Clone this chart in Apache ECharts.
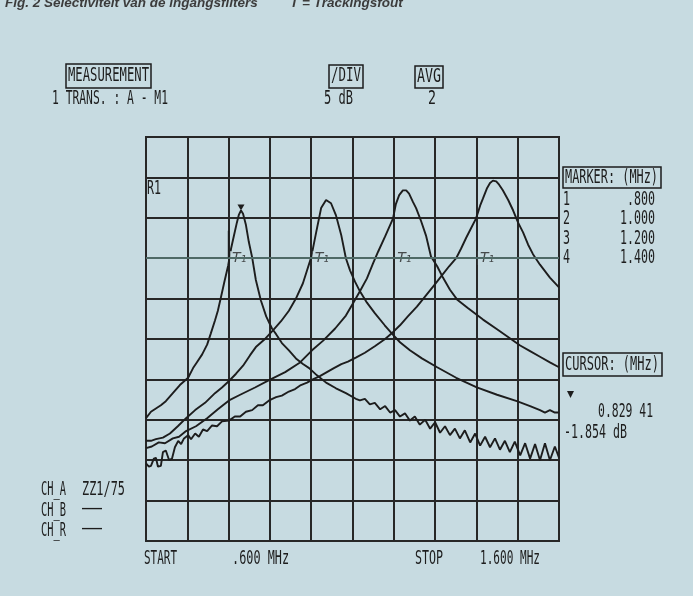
<!DOCTYPE html>
<html>
<head>
<meta charset="utf-8">
<script src="https://cdn.jsdelivr.net/npm/echarts@6/dist/echarts.min.js"></script>
<style>
  html, body { margin: 0; padding: 0; background: #c7dbe1; }
  #chart { width: 693px; height: 596px; }
</style>
</head>
<body>
<div id="chart"></div>
<script>
// frequency in kHz, level in dB (5 dB / div, R1 line = 0 dB)
const curve1 = [
  [600, -29.8], [612, -29.0], [624, -28.6], [636, -28.2], [648, -27.7], [665, -26.7],
  [682, -25.7], [702, -24.8], [714, -23.6], [723, -22.9], [736, -21.9], [748, -20.7],
  [757, -19.3], [767, -17.7], [774, -16.5], [782, -14.7], [789, -13.1], [799, -10.9],
  [806, -8.8], [813, -7.2], [820, -5.6], [825, -4.6], [830, -4.1], [835, -4.5],
  [842, -5.9], [849, -8.0], [857, -9.9], [866, -12.7], [878, -15.2], [891, -17.2],
  [905, -18.7], [915, -19.4], [929, -20.5], [946, -21.4], [963, -22.4], [980, -23.1],
  [995, -23.6], [1014, -24.5], [1036, -25.4], [1060, -26.1], [1084, -26.7], [1108, -27.4],
  [1118, -27.6], [1130, -27.4], [1142, -28.1], [1154, -27.9], [1167, -28.7], [1179, -28.3],
  [1191, -29.1], [1203, -28.8], [1215, -29.6], [1227, -29.2], [1239, -30.1], [1251, -29.6],
  [1263, -30.6], [1276, -30.0], [1288, -31.1], [1300, -30.3], [1312, -31.6], [1324, -30.8],
  [1336, -31.9], [1348, -31.1], [1360, -32.3], [1372, -31.3], [1385, -32.8], [1397, -31.7],
  [1409, -33.2], [1421, -32.1], [1433, -33.4], [1445, -32.3], [1457, -33.7], [1469, -32.6],
  [1481, -34.0], [1493, -32.7], [1506, -34.4], [1518, -32.9], [1530, -34.8], [1542, -33.0],
  [1554, -35.0], [1566, -32.9], [1578, -35.0], [1590, -33.3], [1600, -34.7]
]
const curve2 = [
  [600, -32.6], [612, -32.6], [624, -32.4], [641, -32.2], [658, -31.7], [677, -30.8],
  [697, -29.8], [719, -28.8], [743, -27.9], [767, -26.7], [784, -26.0], [801, -25.2],
  [818, -24.3], [835, -23.3], [852, -22.0], [866, -21.0], [886, -20.1], [908, -18.9],
  [927, -17.8], [946, -16.5], [963, -15.0], [980, -13.1], [990, -11.5], [1000, -9.9],
  [1012, -6.8], [1024, -3.8], [1036, -2.8], [1048, -3.2], [1060, -4.7], [1073, -7.2],
  [1084, -10.0], [1094, -11.5], [1106, -12.9], [1118, -14.1], [1135, -15.5], [1154, -16.8],
  [1178, -18.3], [1195, -19.3], [1215, -20.4], [1239, -21.4], [1268, -22.4], [1305, -23.5],
  [1351, -24.8], [1401, -26.0], [1450, -26.9], [1498, -27.7], [1530, -28.3], [1554, -28.8],
  [1566, -29.1], [1578, -28.8], [1590, -29.1], [1600, -29.1]
]
const curve3 = [
  [600, -33.5], [614, -33.3], [631, -32.8], [646, -32.9], [665, -32.3], [680, -32.1],
  [697, -31.4], [721, -30.8], [748, -29.8], [774, -28.7], [801, -27.6], [828, -26.9],
  [864, -26.0], [898, -25.1], [937, -24.1], [973, -22.9], [1002, -21.4], [1029, -20.2],
  [1058, -18.7], [1084, -17.1], [1101, -15.6], [1118, -14.1], [1135, -12.5], [1150, -10.6],
  [1162, -9.2], [1179, -7.3], [1198, -5.1], [1205, -3.3], [1213, -2.2], [1222, -1.6],
  [1230, -1.6], [1237, -2.0], [1246, -3.0], [1254, -3.8], [1266, -5.4], [1278, -7.2],
  [1290, -9.8], [1305, -11.0], [1319, -12.4], [1336, -13.9], [1353, -15.1], [1380, -16.2],
  [1416, -17.6], [1450, -18.8], [1481, -19.9], [1506, -20.8], [1530, -21.5], [1554, -22.2],
  [1578, -22.9], [1600, -23.5]
]
const curve4 = [
  [600, -35.4], [607, -35.8], [612, -35.7], [619, -34.8], [624, -34.7], [629, -35.8],
  [636, -35.7], [641, -34.0], [648, -33.8], [656, -35.0], [663, -34.8], [670, -33.4],
  [678, -32.6], [685, -33.0], [692, -32.3], [702, -31.9], [709, -32.4], [719, -31.7],
  [728, -32.1], [738, -31.2], [748, -31.4], [760, -30.7], [772, -30.8], [784, -30.2],
  [801, -30.1], [815, -29.6], [828, -29.6], [842, -29.0], [857, -28.8], [871, -28.2],
  [883, -28.2], [898, -27.6], [915, -27.2], [929, -27.0], [946, -26.5], [961, -26.2],
  [975, -25.7], [990, -25.4], [1004, -25.0], [1021, -24.6], [1038, -24.1], [1055, -23.6],
  [1073, -23.1], [1089, -22.8], [1108, -22.3], [1130, -21.7], [1154, -20.9], [1179, -20.0],
  [1195, -19.3], [1215, -18.3], [1234, -17.2], [1256, -16.0], [1278, -14.6], [1300, -13.2],
  [1317, -12.1], [1334, -11.0], [1351, -10.0], [1363, -8.8], [1375, -7.5], [1387, -6.3],
  [1399, -5.1], [1409, -3.5], [1416, -2.6], [1426, -1.3], [1433, -0.7], [1440, -0.4],
  [1448, -0.5], [1455, -0.9], [1464, -1.6], [1477, -2.8], [1489, -4.1], [1501, -5.6],
  [1513, -6.8], [1525, -8.3], [1537, -9.5], [1554, -10.8], [1578, -12.4], [1600, -13.6]
]

const markerFreqs = [800, 1000, 1200, 1400]
const markerLevel = -10
const markerNumbers = ['1', '2', '3', '4']
const markerLabels = ['.800', '1.000', '1.200', '1.400']
const cursorPeak = [830, -4.1]
const cursorFreqText = '0.829 41'
const cursorLevelText = '-1.854 dB'

const bg = '#c7dbe1'
const ink = '#1d1d1d'
const gridColor = '#272727'
const monoFamily = 'DejaVu Sans Mono'

const measureCtx = document.createElement('canvas').getContext('2d')
measureCtx.font = '19px "' + monoFamily + '"'

// squeeze mono text so it spans [left, right] like the plotter's narrow font
function fitText(text, left, right, cy) {
  const w = measureCtx.measureText(text).width
  return {
    type: 'text', x: left, y: cy, scaleX: (right - left) / w, silent: true,
    style: { text, fontSize: 19, fontFamily: monoFamily, fill: ink, align: 'left', verticalAlign: 'middle' }
  }
}
function box(x, y, w, h) {
  return { type: 'rect', silent: true, shape: { x, y, width: w, height: h },
    style: { fill: 'none', stroke: ink, lineWidth: 1.5 } }
}
// the figure caption is cut off by the top edge of the scan
function caption(text, x) {
  return { type: 'text', x, y: 10, silent: true,
    style: { text, font: 'italic bold 13.5px "Liberation Sans"', fill: '#3c3c3c', align: 'left', verticalAlign: 'bottom' } }
}

const graphics = [
  caption('Fig. 2 Selectiviteit van de ingangsfilters', 5),
  caption('T = Trackingsfout', 290),
  box(66, 64, 85, 24), fitText('MEASUREMENT', 68, 149, 76),
  fitText('1 TRANS. : A - M1', 52, 168, 99),
  box(329, 65, 34, 23), fitText('/DIV', 331, 361, 76.5),
  fitText('5 dB', 324, 353, 99),
  box(415, 66, 28, 22), fitText('AVG', 417, 441, 77),
  fitText('2', 428, 436, 99),
  fitText('R1', 147, 161, 189),
  box(563, 167, 98, 21), fitText('MARKER: (MHz)', 565, 658, 178),
  box(563, 353, 99, 23), fitText('CURSOR: (MHz)', 565, 659, 365),
  { type: 'polygon', silent: true, shape: { points: [[567, 391], [574, 391], [570.5, 398]] }, style: { fill: ink } },
  fitText(cursorFreqText, 598, 653, 412),
  fitText(cursorLevelText, 564, 627, 433),
  fitText('CH_A', 41, 66, 490), fitText('ZZ1/75', 82, 125, 490),
  fitText('CH_B', 41, 66, 511), fitText('\u2014\u2014', 82, 102, 509),
  fitText('CH_R', 41, 66, 531), fitText('\u2014\u2014', 82, 102, 529),
  fitText('START', 144, 177, 559), fitText('.600 MHz', 232, 289, 559),
  fitText('STOP', 415, 443, 559), fitText('1.600 MHz', 480, 540, 559)
]
markerNumbers.forEach((n, i) => {
  const cy = 200 + i * 19.3
  graphics.push(fitText(n, 563, 570, cy))
  const lbl = markerLabels[i]
  graphics.push(fitText(lbl, 655 - lbl.length * 7, 655, cy))
})

const curveSeries = [curve1, curve2, curve3, curve4].map((d, i) => ({
  type: 'line', data: d, symbol: 'none', silent: true, z: 3,
  lineStyle: { color: ink, width: 1.9 }
}))

// marker level line, trace-1 marker tick and peak cursor
curveSeries[0].markLine = {
  silent: true, symbol: 'none', label: { show: false }, animation: false,
  data: [
    [{ coord: [600, markerLevel], lineStyle: { color: '#4f6a66', width: 2, type: 'solid' } },
     { coord: [1600, markerLevel] }],
    [{ coord: [800, -6.6], lineStyle: { color: ink, width: 1.4, type: 'solid' } },
     { coord: [800, -9.9] }]
  ]
}
curveSeries[0].markPoint = {
  silent: true, animation: false,
  data: [{ coord: cursorPeak, symbol: 'triangle', symbolRotate: 180, symbolSize: [7, 6],
    symbolOffset: [0, -3], itemStyle: { color: ink }, label: { show: false } }]
}

const markerSeries = {
  type: 'scatter', silent: true, z: 4, symbolSize: 1,
  itemStyle: { color: 'rgba(0,0,0,0)' },
  data: markerFreqs.map(f => [f, markerLevel]),
  label: {
    show: true, position: 'right', distance: 1, formatter: 'T\u2081',
    fontFamily: 'DejaVu Sans', fontStyle: 'italic', fontSize: 14, color: '#262626',
    backgroundColor: bg, padding: [0, 2]
  }
}

const chart = echarts.init(document.getElementById('chart'))
chart.setOption({
  backgroundColor: bg,
  animation: false,
  grid: {
    left: 146, top: 137, width: 413, height: 404,
    show: true, borderColor: gridColor, borderWidth: 2, backgroundColor: 'transparent'
  },
  xAxis: {
    type: 'value', min: 600, max: 1600, interval: 100,
    axisLine: { show: false }, axisTick: { show: false }, axisLabel: { show: false },
    splitLine: { show: true, lineStyle: { color: gridColor, width: 2 } }
  },
  yAxis: {
    type: 'value', min: -45, max: 5, interval: 5,
    axisLine: { show: false }, axisTick: { show: false }, axisLabel: { show: false },
    splitLine: { show: true, lineStyle: { color: gridColor, width: 2 } }
  },
  series: [...curveSeries, markerSeries],
  graphic: graphics
})
</script>
</body>
</html>
